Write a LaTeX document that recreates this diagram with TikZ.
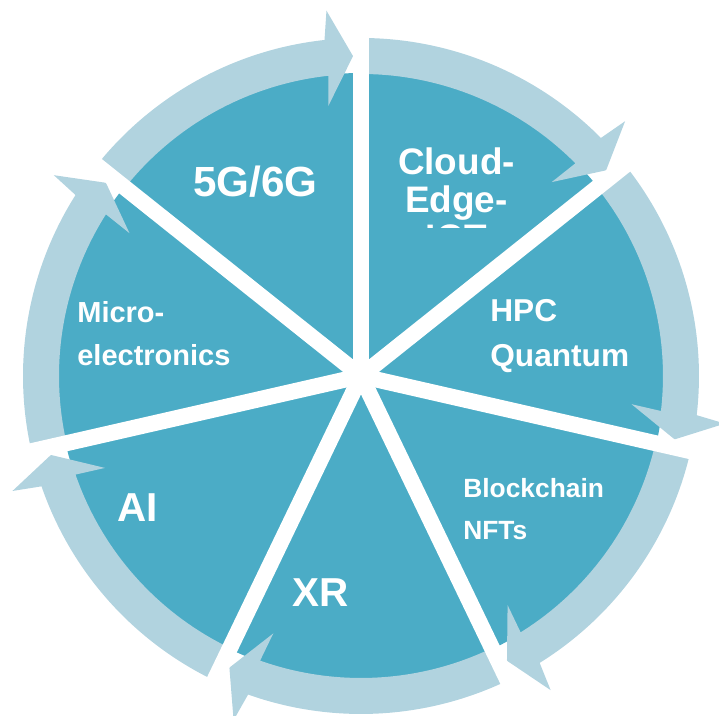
\documentclass[tikz,border=0pt]{standalone}
\usepackage{fontspec}
\setmainfont{Liberation Sans}
\definecolor{sectorteal}{HTML}{4BACC6}
\definecolor{ringblue}{HTML}{B1D3DF}

\begin{document}
\begin{tikzpicture}[scale=0.2]
    \tikzset{sector/.style={fill = sectorteal},
             ringarrow/.style={fill = ringblue},
             gapline/.style={draw = white, line width = 0.32cm},
             sectortext/.style={text = white, inner sep = 0pt,
                                anchor = base west}}
    \useasboundingbox (-36.1,-34) rectangle (35.8,37.6);
    \coordinate (O) at (0,0);
    % seven sectors, clockwise from the top
    \foreach \k in {0,...,6} {
        \pgfmathsetmacro{\startang}{90-\k*360/7}
        \pgfmathsetmacro{\endang}{\startang-360/7}
        \fill[sector] (O) -- (\startang:30.3)
            arc[start angle=\startang, end angle=\endang, radius=30.3] -- cycle;
    }
    % ring of arrows, one for each sector
    \foreach \k in {0,...,6} {
        \pgfmathsetmacro{\startang}{90-\k*360/7}
        \pgfmathsetmacro{\endang}{\startang-360/7}
        \pgfmathsetmacro{\baseang}{\endang+6.2}
        \pgfmathsetmacro{\outang}{\endang+5.4}
        \pgfmathsetmacro{\inang}{\endang+6.9}
        \pgfmathsetmacro{\tipang}{\endang+1.43}
        \fill[ringarrow] (\startang:33.8)
            arc[start angle=\startang, end angle=\baseang, radius=33.8]
            -- (\outang:36.7) -- (\tipang:32) -- (\inang:27.2)
            -- (\baseang:30.2)
            arc[start angle=\baseang, end angle=\startang, radius=30.2] -- cycle;
    }
    % white gaps
    \foreach \k in {0,...,6}
        \draw[gapline] (O) -- ({90-\k*360/7}:40);

    \node[sectortext, font=\bfseries\fontsize{24}{28}\selectfont] (fiveg) at (-16.8,17.9) {5G/6G};
    \begin{scope}
        \clip (-2,14.8) rectangle (22,26);
        \node[sectortext, anchor=base, font=\bfseries\fontsize{21}{25}\selectfont] (cloud) at (9.55,20.1) {Cloud-};
        \node[sectortext, anchor=base, font=\bfseries\fontsize{21}{25}\selectfont] (edge) at (9.55,16.3) {Edge-};
        \node[sectortext, anchor=base, font=\bfseries\fontsize{21}{25}\selectfont] (iot) at (9.55,12.5) {IOT};
    \end{scope}
    \node[sectortext, font=\bfseries\fontsize{18}{22}\selectfont] (hpc) at (12.9,5.4) {HPC};
    \node[sectortext, font=\bfseries\fontsize{18}{22}\selectfont] (quantum) at (12.9,0.9) {Quantum};
    \node[sectortext, font=\bfseries\fontsize{15}{18}\selectfont] (blockchain) at (10.2,-12.2) {Blockchain};
    \node[sectortext, font=\bfseries\fontsize{15}{18}\selectfont] (nfts) at (10.2,-16.4) {NFTs};
    \node[sectortext, font=\bfseries\fontsize{23}{27}\selectfont] (xr) at (-6.9,-23.1) {XR};
    \node[sectortext, font=\bfseries\fontsize{23}{27}\selectfont] (ai) at (-24.4,-14.6) {AI};
    \node[sectortext, font=\bfseries\fontsize{16.5}{20}\selectfont] (micro) at (-28.4,5.3) {Micro-};
    \node[sectortext, font=\bfseries\fontsize{16.5}{20}\selectfont] (electronics) at (-28.4,1.0) {electronics};
\end{tikzpicture}
\end{document}
